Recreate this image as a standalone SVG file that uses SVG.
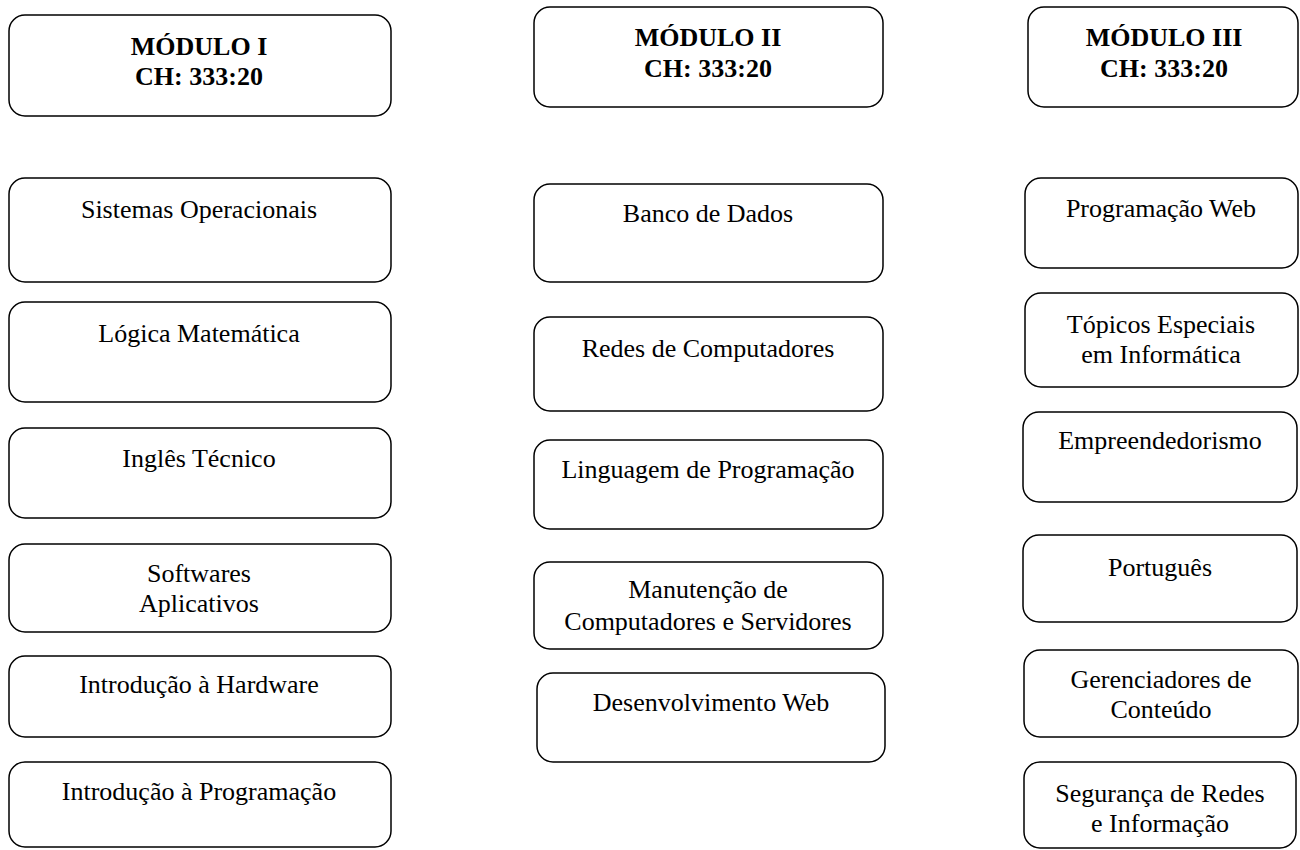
<svg xmlns="http://www.w3.org/2000/svg" width="1300" height="850" viewBox="0 0 1300 850">
<style>
.b{fill:#fff;stroke:#000;stroke-width:1.5}
text{font-family:"Liberation Serif","Times New Roman",serif;font-size:26px;fill:#000;text-anchor:middle}
.h{font-weight:bold}
</style>
<rect width="1300" height="850" fill="#fff"/>
<g id="connectors"></g>
<g id="mod1"><rect class="b" x="9" y="15" width="382" height="101" rx="16"/><text class="h" x="199" y="55">MÓDULO I</text><text class="h" x="199" y="85">CH: 333:20</text></g>
<g id="mod2"><rect class="b" x="534" y="7" width="349" height="100" rx="16"/><text class="h" x="708" y="46">MÓDULO II</text><text class="h" x="708" y="77">CH: 333:20</text></g>
<g id="mod3"><rect class="b" x="1028" y="7" width="270" height="100" rx="16"/><text class="h" x="1164" y="46">MÓDULO III</text><text class="h" x="1164" y="77">CH: 333:20</text></g>

<g id="so"><rect class="b" x="9" y="178" width="382" height="104" rx="16"/><text x="199" y="218">Sistemas Operacionais</text></g>
<g id="lm"><rect class="b" x="9" y="302" width="382" height="100" rx="16"/><text x="199" y="342">Lógica Matemática</text></g>
<g id="it"><rect class="b" x="9" y="428" width="382" height="90" rx="16"/><text x="199" y="467">Inglês Técnico</text></g>
<g id="sa"><rect class="b" x="9" y="544" width="382" height="88" rx="16"/><text x="199" y="582">Softwares</text><text x="199" y="612">Aplicativos</text></g>
<g id="ih"><rect class="b" x="9" y="656" width="382" height="81" rx="16"/><text x="199" y="693">Introdução à Hardware</text></g>
<g id="ip"><rect class="b" x="9" y="762" width="382" height="85" rx="16"/><text x="199" y="800">Introdução à Programação</text></g>

<g id="bd"><rect class="b" x="534" y="184" width="349" height="98" rx="16"/><text x="708" y="222">Banco de Dados</text></g>
<g id="rc"><rect class="b" x="534" y="317" width="349" height="94" rx="16"/><text x="708" y="357">Redes de Computadores</text></g>
<g id="lp"><rect class="b" x="534" y="440" width="349" height="89" rx="16"/><text x="708" y="478">Linguagem de Programação</text></g>
<g id="mc"><rect class="b" x="534" y="562" width="349" height="87" rx="16"/><text x="708" y="598">Manutenção de</text><text x="708" y="630">Computadores e Servidores</text></g>
<g id="dw"><rect class="b" x="537" y="673" width="348" height="89" rx="16"/><text x="711" y="711">Desenvolvimento Web</text></g>

<g id="pw"><rect class="b" x="1025" y="178" width="273" height="90" rx="16"/><text x="1161" y="217">Programação Web</text></g>
<g id="te"><rect class="b" x="1025" y="293" width="273" height="94" rx="16"/><text x="1161" y="333">Tópicos Especiais</text><text x="1161" y="363">em Informática</text></g>
<g id="em"><rect class="b" x="1023" y="412" width="274" height="90" rx="16"/><text x="1160" y="449">Empreendedorismo</text></g>
<g id="pt"><rect class="b" x="1023" y="535" width="274" height="87" rx="16"/><text x="1160" y="576">Português</text></g>
<g id="gc"><rect class="b" x="1024" y="650" width="274" height="87" rx="16"/><text x="1161" y="688">Gerenciadores de</text><text x="1161" y="718">Conteúdo</text></g>
<g id="sr"><rect class="b" x="1024" y="762" width="272" height="86" rx="16"/><text x="1160" y="802">Segurança de Redes</text><text x="1160" y="832">e Informação</text></g>
</svg>
